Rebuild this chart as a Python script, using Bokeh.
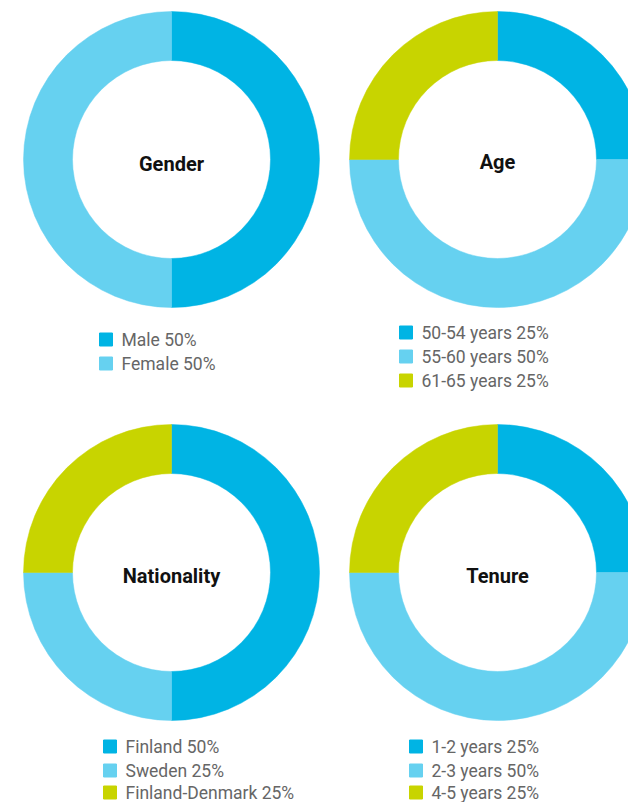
import math
from bokeh.plotting import figure
from bokeh.models import Range1d, ColumnDataSource
from bokeh.core.properties import value
from bokeh.embed import file_html
from bokeh.resources import INLINE

# ---- data ----
chart_titles = ["Gender", "Age", "Nationality", "Tenure"]

gender_labels = ["Male", "Female"]
gender_values = [50, 50]

age_labels = ["50-54 years", "55-60 years", "61-65 years"]
age_values = [25, 50, 25]

nationality_labels = ["Finland", "Sweden", "Finland-Denmark"]
nationality_values = [50, 25, 25]

tenure_labels = ["1-2 years", "2-3 years", "4-5 years"]
tenure_values = [25, 50, 25]

slice_colors = ["#00B4E4", "#66D1F0", "#C8D400"]

# ---- layout (pixel coordinates from the top-left of the figure) ----
W, H = 628, 802


def sy(y):
    return H - y


layout = [
    dict(cx=171, cy=159, ty=163, lx=105.5, rows=[339, 363]),
    dict(cx=497, cy=159, ty=161, lx=405.5, rows=[332, 356, 380]),
    dict(cx=171, cy=572, ty=575, lx=109.5, rows=[746, 770, 792]),
    dict(cx=497, cy=572, ty=575, lx=415.5, rows=[746, 770, 792]),
]
R_OUT, R_IN = 148, 99

charts = [
    (gender_labels, gender_values),
    (age_labels, age_values),
    (nationality_labels, nationality_values),
    (tenure_labels, tenure_values),
]

p = figure(width=W, height=H, output_backend="svg", toolbar_location=None,
           x_range=Range1d(0, W), y_range=Range1d(0, H), min_border=0)
p.axis.visible = False
p.grid.visible = False
p.outline_line_color = None
p.background_fill_color = "white"
p.border_fill_color = "white"

for title, (labels, vals), lay in zip(chart_titles, charts, layout):
    total = float(sum(vals))
    starts, ends = [], []
    cum = 0.0
    for v in vals:
        frac = v / total
        end = math.pi / 2 - cum * 2 * math.pi
        start = end - frac * 2 * math.pi
        starts.append(start)
        ends.append(end)
        cum += frac
    n = len(vals)
    src = ColumnDataSource(dict(
        x=[lay["cx"]] * n, y=[sy(lay["cy"])] * n,
        start=starts, end=ends, color=slice_colors[:n],
    ))
    p.annular_wedge(x="x", y="y", inner_radius=R_IN, outer_radius=R_OUT,
                    start_angle="start", end_angle="end", color="color",
                    line_color="color", line_width=0.5, source=src)

    p.text(x=[lay["cx"]], y=[sy(lay["ty"])], text=[title],
           text_font=value("Roboto"), text_font_style="bold",
           text_font_size="20px", text_color="#111111",
           text_align="center", text_baseline="middle")

    leg = ColumnDataSource(dict(
        x=[lay["lx"]] * n,
        tx=[lay["lx"] + 15.5] * n,
        y=[sy(r) for r in lay["rows"][:n]],
        color=slice_colors[:n],
        text=[f"{l} {v}%" for l, v in zip(labels, vals)],
    ))
    p.rect(x="x", y="y", width=13, height=13, color="color", source=leg)
    p.text(x="tx", y="y", text="text", source=leg,
           text_font=value("Roboto"), text_font_size="17.5px",
           text_color="#666666", text_align="left", text_baseline="middle")

open("out.html", "w").write(file_html(p, INLINE))
